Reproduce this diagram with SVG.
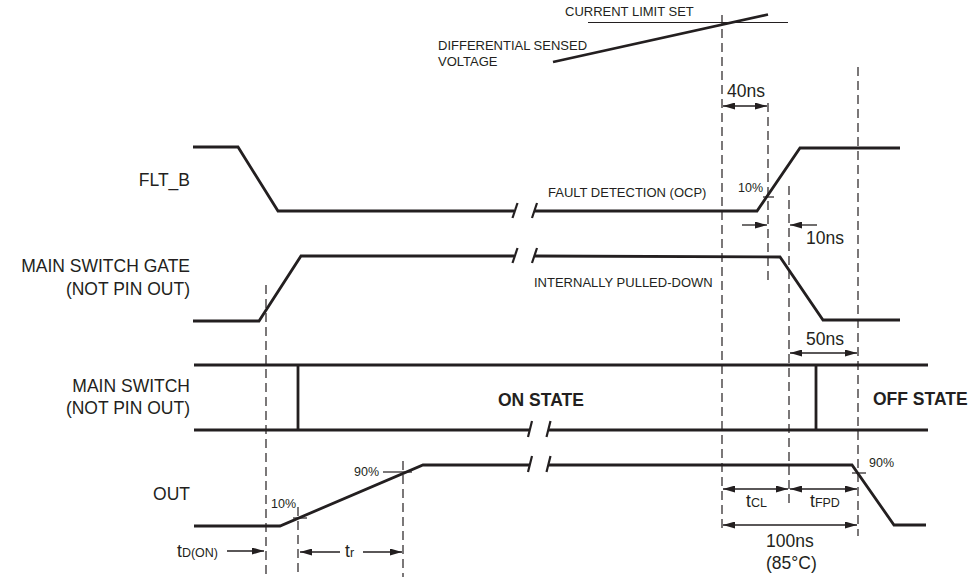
<svg xmlns="http://www.w3.org/2000/svg" width="977" height="577" viewBox="0 0 977 577">
<defs>
<marker id="ah" viewBox="0 0 12 7" refX="12" refY="3.5" markerWidth="12" markerHeight="7" markerUnits="userSpaceOnUse" orient="auto-start-reverse">
<path d="M0,0 L12,3.5 L0,7 z" fill="#231f20"/>
</marker>
<style>
text{font-family:"Liberation Sans",Arial,sans-serif;fill:#231f20}
.lbl{font-size:17.5px}
.sm{font-size:13px}
.pc{font-size:12.5px}
.big{font-size:17.5px;font-weight:bold}
.w{fill:none;stroke:#231f20;stroke-width:2.8;stroke-linejoin:miter}
.brk{fill:none;stroke:#231f20;stroke-width:2.2}
.thin{fill:none;stroke:#231f20;stroke-width:1.2}
.dash{fill:none;stroke:#231f20;stroke-width:1.2;stroke-dasharray:9,5}
.arr{fill:none;stroke:#231f20;stroke-width:1.3}
.a1{marker-end:url(#ah)}
.a2{marker-start:url(#ah);marker-end:url(#ah)}
.sub{font-size:12.5px}
</style>
</defs>
<rect width="977" height="577" fill="#ffffff"/>

<g id="sense">
<line class="thin" x1="588" y1="22.5" x2="788" y2="22.5"/>
<line class="w" x1="553" y1="62" x2="768" y2="14.5"/>
<text class="sm" x="565" y="16">CURRENT LIMIT SET</text>
<text class="sm" x="438" y="50">DIFFERENTIAL SENSED</text>
<text class="sm" x="438" y="66">VOLTAGE</text>
</g>

<g id="flt-b">
<text class="lbl" x="190" y="186" text-anchor="end">FLT_B</text>
<polyline class="w" points="193,147 238,147 278,211 514,211"/>
<line class="brk" x1="512.5" y1="218" x2="517.5" y2="203"/>
<line class="brk" x1="532" y1="218" x2="537" y2="203"/>
<polyline class="w" points="535,211 757,211 800,148 900,148"/>
<text class="sm" x="548" y="197">FAULT DETECTION (OCP)</text>
<text class="pc" x="738" y="192">10%</text>
<line class="thin" x1="763" y1="197" x2="774" y2="197"/>
</g>

<g id="gate">
<text class="lbl" x="190" y="272" text-anchor="end">MAIN SWITCH GATE</text>
<text class="lbl" x="190" y="295" text-anchor="end">(NOT PIN OUT)</text>
<polyline class="w" points="193,321 259,321 301,256 514,256"/>
<line class="brk" x1="512.5" y1="263" x2="517.5" y2="248"/>
<line class="brk" x1="532" y1="263" x2="537" y2="248"/>
<polyline class="w" points="535,256 780,257 823,320 900,320"/>
<text class="sm" x="534" y="287">INTERNALLY PULLED-DOWN</text>
</g>

<g id="main-switch">
<text class="lbl" x="190" y="392" text-anchor="end">MAIN SWITCH</text>
<text class="lbl" x="190" y="414" text-anchor="end">(NOT PIN OUT)</text>
<line class="w" x1="194" y1="365" x2="928" y2="365"/>
<line class="w" x1="194" y1="430" x2="529" y2="430"/>
<line class="brk" x1="528" y1="437" x2="532" y2="421"/>
<line class="brk" x1="546.5" y1="437" x2="550.5" y2="421"/>
<line class="w" x1="549" y1="430" x2="928" y2="430"/>
<line class="w" x1="298" y1="365" x2="298" y2="430"/>
<line class="w" x1="816" y1="365" x2="816" y2="430"/>
<text class="big" x="498" y="406">ON STATE</text>
<text class="big" x="873" y="405">OFF STATE</text>
</g>

<g id="out">
<text class="lbl" x="190" y="500" text-anchor="end">OUT</text>
<polyline class="w" points="194,526 280,526 423,465 529,465"/>
<line class="brk" x1="528" y1="472" x2="532" y2="456"/>
<line class="brk" x1="546.5" y1="472" x2="550.5" y2="456"/>
<polyline class="w" points="549,465 852,465 894,525 926,525"/>
<text class="pc" x="271" y="508">10%</text>
<line class="thin" x1="293" y1="518" x2="307" y2="518"/>
<text class="pc" x="354" y="476">90%</text>
<line class="thin" x1="383" y1="472" x2="412" y2="472"/>
<text class="pc" x="869" y="467">90%</text>
<line class="thin" x1="852" y1="473" x2="866" y2="473"/>
</g>

<g id="connectors">
<line class="dash" x1="722" y1="15" x2="722" y2="533"/>
<line class="dash" x1="768" y1="103" x2="768" y2="284"/>
<line class="dash" x1="789" y1="186" x2="789" y2="508"/>
<line class="dash" x1="858" y1="67" x2="858" y2="536"/>
<line class="dash" x1="266" y1="285" x2="266" y2="577"/>
<line class="dash" x1="298" y1="507" x2="298" y2="577"/>
<line class="dash" x1="403" y1="461" x2="403" y2="577"/>

<line class="arr a2" x1="723" y1="106" x2="767" y2="106"/>
<text class="lbl" x="727" y="97">40ns</text>

<line class="arr a1" x1="742" y1="225" x2="767" y2="225"/>
<line class="arr a1" x1="817" y1="225" x2="790" y2="225"/>
<text class="lbl" x="806" y="244">10ns</text>

<line class="arr a2" x1="790" y1="353" x2="857" y2="353"/>
<text class="lbl" x="806" y="345">50ns</text>

<line class="arr a2" x1="723" y1="489" x2="788" y2="489"/>
<text x="746" y="507"><tspan class="lbl">t</tspan><tspan class="sub">CL</tspan></text>
<line class="arr a2" x1="790" y1="489" x2="857" y2="489"/>
<text x="810" y="507"><tspan class="lbl">t</tspan><tspan class="sub">FPD</tspan></text>

<line class="arr a2" x1="723" y1="525" x2="857" y2="525"/>
<text class="lbl" x="766" y="547">100ns</text>
<text class="lbl" x="766" y="569">(85°C)</text>

<text x="177" y="557"><tspan class="lbl">t</tspan><tspan class="sub">D(ON)</tspan></text>
<line class="arr a1" x1="227" y1="551" x2="264" y2="551"/>

<line class="arr a1" x1="340" y1="552" x2="300" y2="552"/>
<line class="arr a1" x1="363" y1="552" x2="402" y2="552"/>
<text x="345" y="557"><tspan class="lbl">t</tspan><tspan class="sub">r</tspan></text>
</g>
</svg>
